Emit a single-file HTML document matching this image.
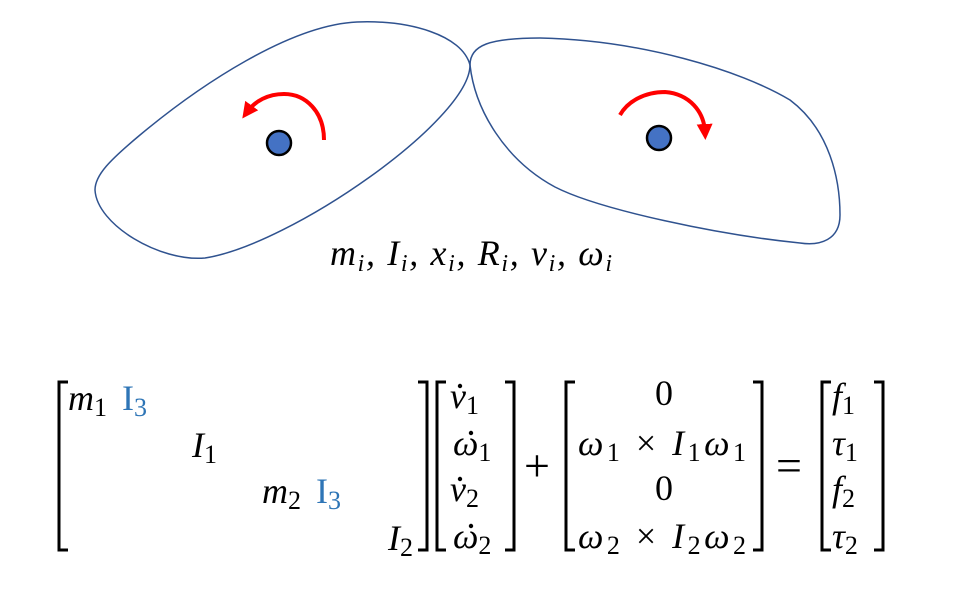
<!DOCTYPE html>
<html><head><style>
html,body{margin:0;padding:0;background:#fff;width:960px;height:590px;overflow:hidden}
svg text{font-family:"Liberation Serif",serif;fill:#000}
.i{font-style:italic}
</style></head><body>
<svg width="960" height="590" viewBox="0 0 960 590" xmlns="http://www.w3.org/2000/svg">
<defs>
<marker id="ah" viewBox="0 0 10 10" refX="5" refY="5" markerWidth="4" markerHeight="4" orient="auto"><path d="M0,0 L10,5 L0,10 z" fill="#f00"/></marker>
</defs>
<g fill="none" stroke="#2f528f" stroke-width="1.5">
<path d="M470,65 C462,35 410,20 357,22 C290,25 200,85 140,135 C110,160 95,175 95,190 C97,225 160,262 205,258 C290,245 470,120 470,65 Z"/>
<path d="M470,65 C470,45 490,38 540,38 C640,40 740,70 790,100 C830,130 840,180 840,215 C840,240 820,246 800,243 C720,235 600,210 555,187 C505,160 475,110 470,65 Z"/>
</g>
<circle cx="279" cy="143" r="12" fill="#4472c4" stroke="#000" stroke-width="2.5"/>
<circle cx="659" cy="138" r="12" fill="#4472c4" stroke="#000" stroke-width="2.5"/>
<path d="M324,140 C324,112 306,94 284,94 C268,94 255,101 247,112" fill="none" stroke="#f00" stroke-width="4" marker-end="url(#ah)"/>
<path d="M620,115 C628,101 645,92 665,92 C690,94 704,112 705,132" fill="none" stroke="#f00" stroke-width="4" marker-end="url(#ah)"/>
<text x="330" y="265" font-size="36" class="i" textLength="282" lengthAdjust="spacing">m<tspan font-size="24" dy="6">i</tspan><tspan dy="-6">, I</tspan><tspan font-size="24" dy="6">i</tspan><tspan dy="-6">, x</tspan><tspan font-size="24" dy="6">i</tspan><tspan dy="-6">, R</tspan><tspan font-size="24" dy="6">i</tspan><tspan dy="-6">, v</tspan><tspan font-size="24" dy="6">i</tspan><tspan dy="-6">, ω</tspan><tspan font-size="24" dy="6">i</tspan></text>
<g fill="none" stroke="#000" stroke-width="3">
<path d="M68,382 H59 V550 H68"/>
<path d="M418,382 H427 V550 H418"/>
<path d="M446,382 H437 V550 H446"/>
<path d="M505,382 H514 V550 H505"/>
<path d="M575,382 H566 V550 H575"/>
<path d="M753,382 H762 V550 H753"/>
<path d="M831,382 H822 V550 H831"/>
<path d="M874,382 H883 V550 H874"/>
</g>
<g fill="#000">
<circle cx="460" cy="386" r="2.2"/><circle cx="471" cy="433" r="2.2"/>
<circle cx="460" cy="479" r="2.2"/><circle cx="471" cy="526" r="2.2"/>
</g>
<g font-size="36">
<text x="68" y="410" class="i">m<tspan font-size="26" dy="6" font-style="normal">1</tspan></text>
<text x="122" y="410" style="fill:#2e75b6">I<tspan font-size="26" dy="6">3</tspan></text>
<text x="192" y="457" class="i">I<tspan font-size="26" dy="6" font-style="normal">1</tspan></text>
<text x="262" y="503" class="i">m<tspan font-size="26" dy="6" font-style="normal">2</tspan></text>
<text x="316" y="503" style="fill:#2e75b6">I<tspan font-size="26" dy="6">3</tspan></text>
<text x="388" y="550" class="i">I<tspan font-size="26" dy="6" font-style="normal">2</tspan></text>
<text x="450" y="408" class="i">v<tspan font-size="26" dy="6" font-style="normal">1</tspan></text>
<text x="453" y="455" class="i">ω<tspan font-size="26" dy="6" font-style="normal">1</tspan></text>
<text x="450" y="501" class="i">v<tspan font-size="26" dy="6" font-style="normal">2</tspan></text>
<text x="453" y="548" class="i">ω<tspan font-size="26" dy="6" font-style="normal">2</tspan></text>
<text x="524" y="481" font-size="46">+</text>
<text x="664" y="405" text-anchor="middle">0</text>
<text x="578" y="455" class="i" textLength="168" lengthAdjust="spacing">ω<tspan font-size="26" dy="6" font-style="normal">1</tspan><tspan dy="-6" font-style="normal"> × </tspan>I<tspan font-size="26" dy="6" font-style="normal">1</tspan><tspan dy="-6">ω</tspan><tspan font-size="26" dy="6" font-style="normal">1</tspan></text>
<text x="664" y="500" text-anchor="middle">0</text>
<text x="578" y="548" class="i" textLength="168" lengthAdjust="spacing">ω<tspan font-size="26" dy="6" font-style="normal">2</tspan><tspan dy="-6" font-style="normal"> × </tspan>I<tspan font-size="26" dy="6" font-style="normal">2</tspan><tspan dy="-6">ω</tspan><tspan font-size="26" dy="6" font-style="normal">2</tspan></text>
<text x="776" y="481" font-size="46">=</text>
<text x="832" y="408" class="i">f<tspan font-size="26" dy="6" font-style="normal">1</tspan></text>
<text x="832" y="455" class="i">τ<tspan font-size="26" dy="6" font-style="normal">1</tspan></text>
<text x="832" y="501" class="i">f<tspan font-size="26" dy="6" font-style="normal">2</tspan></text>
<text x="832" y="548" class="i">τ<tspan font-size="26" dy="6" font-style="normal">2</tspan></text>
</g>
</svg>
</body></html>
